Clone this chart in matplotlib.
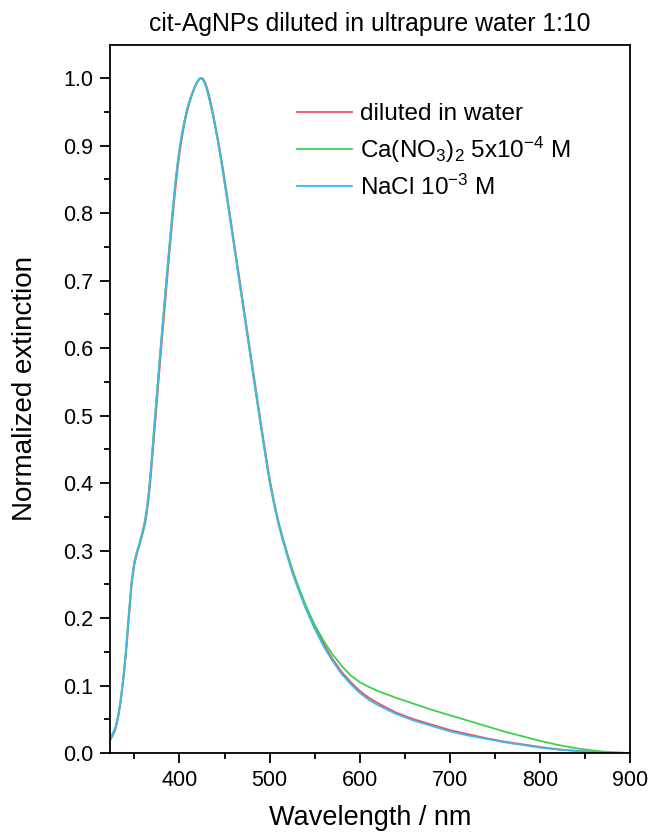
import matplotlib
matplotlib.use("Agg")
import matplotlib.pyplot as plt
from matplotlib.ticker import MultipleLocator, FormatStrFormatter

plt.rcParams['font.family'] = ['Liberation Sans', 'DejaVu Sans']
plt.rcParams['mathtext.fontset'] = 'custom'
plt.rcParams['mathtext.rm'] = 'Liberation Sans'
plt.rcParams['mathtext.it'] = 'Liberation Sans'
plt.rcParams['mathtext.default'] = 'regular'

wavelength = [323, 326, 329, 332, 335, 338, 341, 344, 347, 350, 353, 356,
              358, 360, 362, 364, 366, 368, 370, 372, 374, 376, 378, 380, 384, 388,
              392, 394, 396, 398, 400, 402, 404, 406, 408, 410, 412, 414, 416, 418,
              420, 422, 424, 426, 428, 430, 432, 434, 436, 438, 440, 442, 444, 446,
              448, 450, 455, 460, 465, 470, 475, 480, 485, 490, 495, 500, 505, 510,
              515, 520, 525, 530, 540, 550, 560, 570, 580, 590, 600, 610, 620, 640,
              660, 680, 700, 720, 740, 760, 780, 800, 820, 840, 860, 880, 900]

nacl = [0.024, 0.029, 0.038, 0.055, 0.081, 0.115, 0.157, 0.208, 0.255, 0.283, 0.299, 0.312,
        0.322, 0.333, 0.346, 0.363, 0.386, 0.416, 0.449, 0.483, 0.516, 0.549, 0.582, 0.614,
        0.677, 0.738, 0.797, 0.825, 0.851, 0.874, 0.894, 0.911, 0.926, 0.939, 0.951, 0.961,
        0.969, 0.977, 0.984, 0.990, 0.995, 0.999, 1.000, 0.998, 0.993, 0.985, 0.975, 0.964,
        0.952, 0.939, 0.925, 0.911, 0.896, 0.880, 0.863, 0.846, 0.802, 0.757, 0.712, 0.667,
        0.622, 0.577, 0.532, 0.487, 0.444, 0.402, 0.368, 0.338, 0.313, 0.290, 0.268, 0.249,
        0.214, 0.184, 0.158, 0.136, 0.117, 0.102, 0.089, 0.079, 0.071, 0.058, 0.048, 0.040,
        0.032, 0.026, 0.021, 0.016, 0.012, 0.008, 0.005, 0.003, 0.0015, 0.0005, 0.0]

water = [0.020, 0.026, 0.035, 0.052, 0.077, 0.110, 0.151, 0.201, 0.249, 0.279, 0.296, 0.309,
         0.319, 0.329, 0.341, 0.357, 0.378, 0.406, 0.438, 0.471, 0.504, 0.537, 0.570, 0.602,
         0.665, 0.727, 0.787, 0.815, 0.842, 0.866, 0.887, 0.905, 0.921, 0.935, 0.947, 0.958,
         0.967, 0.975, 0.982, 0.989, 0.994, 0.998, 1.000, 0.999, 0.995, 0.988, 0.979, 0.968,
         0.956, 0.943, 0.929, 0.915, 0.900, 0.884, 0.868, 0.851, 0.807, 0.762, 0.717, 0.672,
         0.627, 0.582, 0.537, 0.492, 0.449, 0.407, 0.372, 0.342, 0.317, 0.294, 0.272, 0.253,
         0.218, 0.188, 0.162, 0.139, 0.120, 0.105, 0.092, 0.082, 0.074, 0.060, 0.050, 0.042,
         0.034, 0.028, 0.022, 0.017, 0.013, 0.009, 0.0055, 0.0033, 0.0017, 0.0006, 0.0]

cano3 = [0.018, 0.027, 0.037, 0.055, 0.081, 0.115, 0.157, 0.208, 0.255, 0.283, 0.299, 0.312,
         0.322, 0.333, 0.346, 0.363, 0.386, 0.416, 0.449, 0.483, 0.516, 0.549, 0.582, 0.614,
         0.677, 0.738, 0.797, 0.825, 0.851, 0.874, 0.894, 0.911, 0.926, 0.939, 0.951, 0.961,
         0.969, 0.977, 0.984, 0.990, 0.995, 0.999, 1.000, 0.998, 0.993, 0.985, 0.975, 0.964,
         0.952, 0.939, 0.925, 0.911, 0.896, 0.880, 0.863, 0.846, 0.802, 0.757, 0.712, 0.667,
         0.622, 0.577, 0.532, 0.487, 0.444, 0.403, 0.369, 0.340, 0.315, 0.293, 0.272, 0.253,
         0.219, 0.190, 0.166, 0.146, 0.129, 0.115, 0.105, 0.098, 0.092, 0.082, 0.073, 0.064,
         0.056, 0.048, 0.040, 0.032, 0.025, 0.018, 0.012, 0.007, 0.0035, 0.001, 0.0]

labels = ["diluted in water", r"Ca(NO$_3$)$_2$ 5x10$^{-4}$ M", r"NaCl 10$^{-3}$ M"]
colors = ["#e8535d", "#3ed14f", "#3fb8ec"]

fig = plt.figure(figsize=(6.51, 8.34), dpi=100)
ax = fig.add_axes([0.169, 0.0971, 0.799, 0.849])

ax.plot(wavelength, water, color=colors[0], lw=1.3, label=labels[0])
ax.plot(wavelength, cano3, color=colors[1], lw=1.3, label=labels[1])
ax.plot(wavelength, nacl, color=colors[2], lw=1.3, label=labels[2])

ax.set_xlim(323, 900)
ax.set_ylim(0, 1.049)
ax.xaxis.set_major_locator(MultipleLocator(100))
ax.xaxis.set_minor_locator(MultipleLocator(50))
ax.yaxis.set_major_locator(MultipleLocator(0.1))
ax.yaxis.set_minor_locator(MultipleLocator(0.05))
ax.yaxis.set_major_formatter(FormatStrFormatter('%.1f'))
ax.tick_params(which='major', direction='out', length=7, width=1.3, labelsize=15.5, pad=5,
               top=False, right=False)
ax.tick_params(which='minor', direction='out', length=4.5, width=1.3, top=False, right=False)
for s in ax.spines.values():
    s.set_linewidth(1.3)

ax.set_xlabel("Wavelength / nm", fontsize=19.5, labelpad=10)
ax.set_ylabel("Normalized extinction", fontsize=20)
ax.yaxis.set_label_coords(-0.138, 0.515)
ax.set_title("cit-AgNPs diluted in ultrapure water 1:10", fontsize=17.8, pad=10)

ax.legend(loc='upper left', bbox_to_anchor=(0.36, 0.918), frameon=False, fontsize=17.5,
          handlelength=2.26, handletextpad=0.33, labelspacing=0.4, borderpad=0,
          borderaxespad=0)

fig.savefig("out.png", dpi=100)
